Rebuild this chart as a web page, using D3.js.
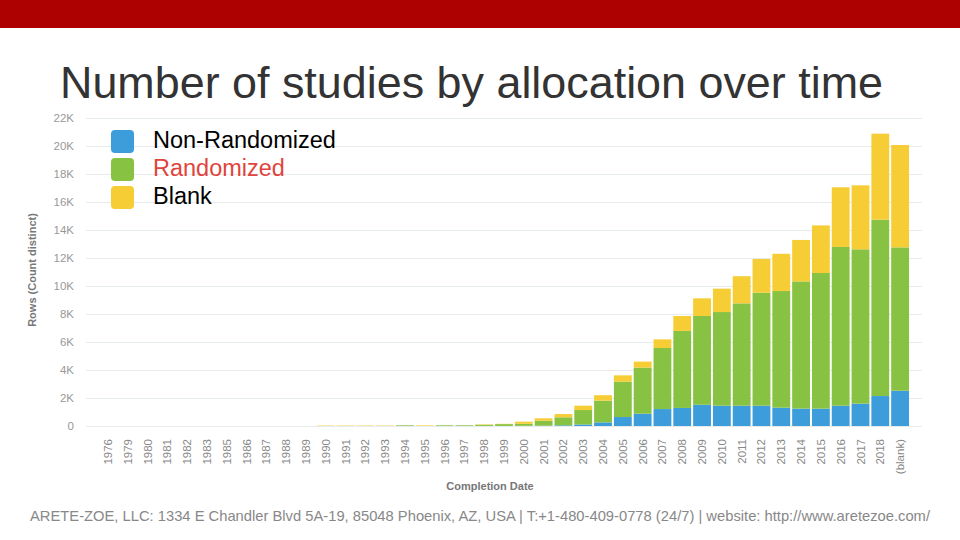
<!DOCTYPE html>
<html>
<head>
<meta charset="utf-8">
<script src="https://cdn.jsdelivr.net/npm/d3@7"></script>
<style>
  body { margin: 0; background: #fff; }
  svg { display: block; font-family: "Liberation Sans", Arial, sans-serif; }
</style>
</head>
<body>
<div id="chart"></div>
<script>
// completion date categories (as shown on the x axis)
let years = ["1976", "1979", "1980", "1981", "1982", "1983", "1985", "1986", "1987", "1988", "1989",
    "1990", "1991", "1992", "1993", "1994", "1995", "1996", "1997", "1998", "1999",
    "2000", "2001", "2002", "2003", "2004", "2005", "2006", "2007", "2008", "2009",
    "2010", "2011", "2012", "2013", "2014", "2015", "2016", "2017", "2018", "(blank)"];

// counts per allocation
let nonRandomized = [0, 0, 0, 0, 0, 0, 0, 0, 0, 0, 0,
    0, 0, 0, 0, 0, 0, 0, 0, 5, 5,
    10, 20, 50, 110, 260, 640, 880, 1210, 1290, 1520,
    1450, 1450, 1450, 1310, 1240, 1240, 1450, 1600, 2140, 2520];
let randomized = [0, 0, 0, 0, 0, 0, 0, 0, 0, 0, 0,
    0, 0, 0, 0, 50, 0, 50, 50, 80, 130,
    150, 360, 570, 1030, 1550, 2530, 3290, 4360, 5500, 6340,
    6690, 7310, 8070, 8330, 9090, 9690, 11340, 11020, 12600, 10240];
let blank = [0, 0, 0, 0, 0, 0, 0, 0, 0, 0, 0,
    30, 30, 30, 30, 0, 40, 0, 0, 30, 20,
    150, 170, 230, 310, 390, 450, 430, 620, 1070, 1260,
    1670, 1940, 2410, 2660, 2960, 3400, 4260, 4570, 6140, 7310];

let seriesNames = ["Non-Randomized", "Randomized", "Blank"];
let yTicks = [0, 2000, 4000, 6000, 8000, 10000, 12000, 14000, 16000, 18000, 20000, 22000];

let colors = {"Non-Randomized": "#3d9ddb", "Randomized": "#88c242", "Blank": "#f6cd35"};

let width = 960, height = 540;
let plot = {left: 98, right: 910, top: 118, bottom: 426};

let svg = d3.select("#chart").append("svg")
    .attr("width", width)
    .attr("height", height);

// red banner on top
svg.append("rect")
    .attr("x", 0).attr("y", 0)
    .attr("width", width).attr("height", 28)
    .attr("fill", "#ad0000");

// title
svg.append("text")
    .attr("x", 60).attr("y", 98)
    .attr("font-size", 45)
    .attr("fill", "#333")
    .attr("textLength", 823)
    .attr("lengthAdjust", "spacingAndGlyphs")
    .text("Number of studies by allocation over time");

let table = years.map(function(y, i) {
    return {year: y, "Non-Randomized": nonRandomized[i], "Randomized": randomized[i], "Blank": blank[i]};
});

let x = d3.scaleBand()
    .domain(years)
    .range([plot.left, plot.right])
    .paddingInner(0.1)
    .paddingOuter(0.05);

let y = d3.scaleLinear()
    .domain([0, 22000])
    .range([plot.bottom, plot.top]);

// gridlines + y labels
let yAxis = d3.axisLeft(y)
    .tickValues(yTicks)
    .tickSize(-(plot.right - plot.left + 24))
    .tickPadding(12)
    .tickFormat(function(d) { return d === 0 ? "0" : (d / 1000) + "K"; });

let gy = svg.append("g")
    .attr("transform", "translate(" + (plot.left - 12) + ",0)")
    .call(yAxis);
gy.select(".domain").remove();
gy.selectAll(".tick line").attr("stroke", "#e6ecee");
gy.selectAll(".tick text")
    .attr("fill", "#999")
    .attr("font-size", 11.5);

// stacked bars
let stack = d3.stack().keys(seriesNames);
let layers = stack(table);

svg.append("g").selectAll("g")
    .data(layers)
    .enter().append("g")
    .attr("fill", function(d) { return colors[d.key]; })
    .selectAll("rect")
    .data(function(d) { return d; })
    .enter().append("rect")
    .attr("x", function(d) { return x(d.data.year); })
    .attr("width", x.bandwidth())
    .attr("y", function(d) { return y(d[1]); })
    .attr("height", function(d) { return y(d[0]) - y(d[1]); });

// x labels, rotated
let xAxis = d3.axisBottom(x).tickSize(0).tickPadding(0);
let gx = svg.append("g")
    .attr("transform", "translate(0," + plot.bottom + ")")
    .call(xAxis);
gx.select(".domain").remove();
gx.selectAll(".tick text")
    .attr("fill", "#888")
    .attr("font-size", 11.5)
    .attr("text-anchor", "end")
    .attr("transform", "rotate(-90)")
    .attr("x", -13)
    .attr("y", 0)
    .attr("dy", "0.35em");

// axis titles
svg.append("text")
    .attr("x", 490).attr("y", 490)
    .attr("text-anchor", "middle")
    .attr("font-size", 11)
    .attr("font-weight", "bold")
    .attr("fill", "#777")
    .text("Completion Date");

svg.append("text")
    .attr("transform", "translate(36,270) rotate(-90)")
    .attr("text-anchor", "middle")
    .attr("font-size", 11)
    .attr("font-weight", "bold")
    .attr("fill", "#777")
    .text("Rows (Count distinct)");

// legend
let legend = svg.append("g").selectAll("g")
    .data(seriesNames)
    .enter().append("g")
    .attr("transform", function(d, i) { return "translate(111," + (130 + i * 28) + ")"; });

legend.append("rect")
    .attr("width", 23).attr("height", 23)
    .attr("rx", 4).attr("ry", 4)
    .attr("fill", function(d) { return colors[d]; });

legend.append("text")
    .attr("x", 42).attr("y", 18)
    .attr("font-size", 23.5)
    .attr("fill", function(d) { return d === "Randomized" ? "#e0443c" : "#000"; })
    .text(function(d) { return d; });

// footer
svg.append("text")
    .attr("x", 30).attr("y", 521)
    .attr("font-size", 14.5)
    .attr("fill", "#888")
    .attr("textLength", 900)
    .attr("lengthAdjust", "spacingAndGlyphs")
    .text("ARETE-ZOE, LLC: 1334 E Chandler Blvd 5A-19, 85048 Phoenix, AZ, USA | T:+1-480-409-0778 (24/7) | website: http://www.aretezoe.com/");
</script>
</body>
</html>
